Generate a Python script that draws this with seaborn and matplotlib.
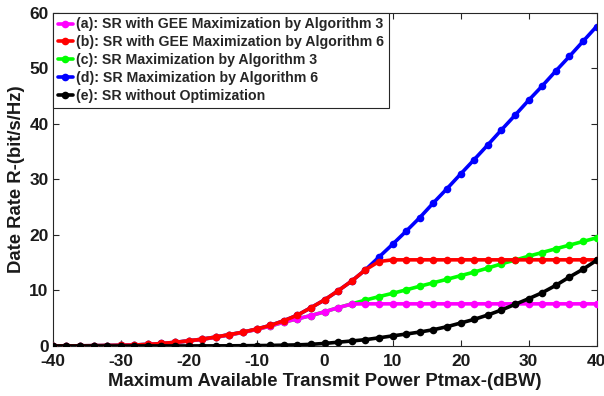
import numpy as np
import pandas as pd
import matplotlib
matplotlib.use("Agg")
import matplotlib.pyplot as plt
import seaborn as sns

# ---------------- data ----------------
power_dbw = list(range(-40, 41, 2))

sr_gee_alg3 = [0.01, 0.02, 0.03, 0.05, 0.08, 0.12, 0.18, 0.28, 0.44, 0.64,
               0.90, 1.20, 1.58, 2.00, 2.45, 2.98, 3.58, 4.30, 4.88, 5.48,
               6.15, 6.90, 7.55, 7.58, 7.58, 7.58, 7.58, 7.58, 7.58, 7.58,
               7.58, 7.58, 7.58, 7.58, 7.58, 7.58, 7.58, 7.58, 7.58, 7.58, 7.58]

sr_gee_alg6 = [0.01, 0.02, 0.03, 0.05, 0.08, 0.12, 0.18, 0.28, 0.45, 0.66,
               0.93, 1.23, 1.62, 2.05, 2.50, 3.05, 3.70, 4.55, 5.55, 6.90,
               8.30, 9.95, 11.70, 13.70, 15.20, 15.50, 15.50, 15.50, 15.50, 15.50,
               15.50, 15.50, 15.50, 15.50, 15.50, 15.50, 15.50, 15.50, 15.50, 15.50, 15.50]

sr_alg3 = [0.01, 0.02, 0.03, 0.05, 0.08, 0.12, 0.18, 0.28, 0.44, 0.64,
           0.90, 1.20, 1.58, 2.00, 2.45, 2.98, 3.58, 4.30, 4.88, 5.48,
           6.15, 6.90, 7.58, 8.26, 8.88, 9.48, 10.10, 10.75, 11.38, 12.00,
           12.65, 13.30, 14.02, 14.78, 15.45, 16.15, 16.82, 17.49, 18.14, 18.80, 19.46]

sr_alg6 = [0.01, 0.02, 0.03, 0.05, 0.08, 0.12, 0.18, 0.28, 0.45, 0.66,
           0.93, 1.23, 1.62, 2.05, 2.50, 3.05, 3.70, 4.55, 5.55, 6.90,
           8.30, 9.95, 11.70, 13.70, 16.00, 18.30, 20.66, 23.10, 25.75, 28.30,
           30.93, 33.53, 36.17, 38.86, 41.50, 44.19, 46.77, 49.46, 52.09, 54.79, 57.48]

sr_no_opt = [0.00, 0.00, 0.00, 0.00, 0.00, 0.00, 0.00, 0.01, 0.01, 0.01,
             0.01, 0.015, 0.02, 0.03, 0.05, 0.07, 0.10, 0.15, 0.20, 0.30,
             0.46, 0.68, 0.90, 1.14, 1.47, 1.82, 2.15, 2.51, 2.93, 3.47,
             4.13, 4.79, 5.57, 6.47, 7.48, 8.50, 9.58, 10.90, 12.40, 13.80, 15.40]

labels = ["(a): SR with GEE Maximization by Algorithm 3",
          "(b): SR with GEE Maximization by Algorithm 6",
          "(c): SR Maximization by Algorithm 3",
          "(d): SR Maximization by Algorithm 6",
          "(e): SR without Optimization"]
colors = ["#ff00ff", "#ff0000", "#00ff00", "#0000ff", "#000000"]
series = [sr_gee_alg3, sr_gee_alg6, sr_alg3, sr_alg6, sr_no_opt]

xticks = [-40, -30, -20, -10, 0, 10, 20, 30, 40]
yticks = [0, 10, 20, 30, 40, 50, 60]

# ---------------- style ----------------
sns.set_style("white")
plt.rcParams["font.family"] = ["Liberation Sans", "DejaVu Sans"]
plt.rcParams["font.weight"] = "bold"
plt.rcParams["axes.unicode_minus"] = False

fig = plt.figure(figsize=(6.04, 3.96), dpi=100)
ax = fig.add_axes([0.0873, 0.1263, 0.9003, 0.8421])

frames = []
for lab, vals in zip(labels, series):
    frames.append(pd.DataFrame({"P": power_dbw, "R": vals, "curve": lab}))
df = pd.concat(frames, ignore_index=True)

draw_order = [3, 2, 0, 1, 4]
for i in draw_order:
    sub = df[df["curve"] == labels[i]]
    sns.lineplot(data=sub, x="P", y="R", ax=ax, color=colors[i], lw=2.6,
                 marker="o", markersize=5.5, markeredgewidth=0,
                 label=labels[i], zorder=2 + draw_order.index(i))

h, l = ax.get_legend_handles_labels()
hm = dict(zip(l, h))
leg = ax.legend([hm[x] for x in labels], labels, loc="upper left",
                borderaxespad=0, frameon=True, fancybox=False,
                edgecolor="#262626", framealpha=1, handlelength=1.1,
                handletextpad=0.2, labelspacing=0.28, borderpad=0.35,
                prop={"weight": "bold", "size": 10.2})
leg.get_frame().set_linewidth(0.8)

ax.set_xlim(-40, 40)
ax.set_ylim(0, 60)
ax.set_xticks(xticks)
ax.set_yticks(yticks)
ax.tick_params(direction="in", length=4, width=0.8, colors="#262626",
               labelcolor="#1a1a1a", labelsize=12.5, top=True, right=True,
               bottom=True, left=True)
ax.tick_params(axis="x", pad=6)
ax.tick_params(axis="y", pad=3)
for t in ax.get_xticklabels() + ax.get_yticklabels():
    t.set_fontweight("bold")
for s in ax.spines.values():
    s.set_color("#262626")
    s.set_linewidth(0.8)

ax.set_xlabel("Maximum Available Transmit Power Ptmax-(dBW)", fontsize=13.3,
              fontweight="bold", color="#1a1a1a", labelpad=3)
ax.set_ylabel("Date Rate R-(bit/s/Hz)", fontsize=13.3, fontweight="bold",
              color="#1a1a1a", labelpad=3)

fig.savefig("out.png", dpi=100)
